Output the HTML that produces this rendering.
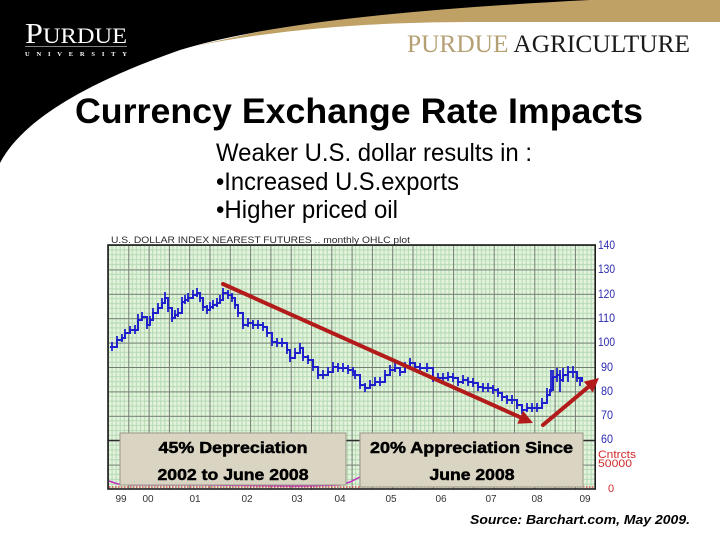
<!DOCTYPE html>
<html><head><meta charset="utf-8"><style>
html,body{margin:0;padding:0;background:#fff;}
svg{display:block;}
</style></head><body>
<svg width="720" height="540" viewBox="0 0 720 540" xmlns="http://www.w3.org/2000/svg">
<defs>
<pattern id="grid" patternUnits="userSpaceOnUse" x="108" y="245" width="20.3" height="24.4">
<rect width="20.3" height="24.4" fill="#e3f3dd"/>
<g stroke="#b3d9b1" stroke-width="1">
<line x1="4.06" y1="0" x2="4.06" y2="24.4"/><line x1="8.12" y1="0" x2="8.12" y2="24.4"/>
<line x1="12.18" y1="0" x2="12.18" y2="24.4"/><line x1="16.24" y1="0" x2="16.24" y2="24.4"/>
<line x1="0" y1="4.88" x2="20.3" y2="4.88"/><line x1="0" y1="9.76" x2="20.3" y2="9.76"/>
<line x1="0" y1="14.64" x2="20.3" y2="14.64"/><line x1="0" y1="19.52" x2="20.3" y2="19.52"/>
</g>
<g stroke="#6f7f6f" stroke-width="1">
<line x1="0.5" y1="0" x2="0.5" y2="24.4"/><line x1="0" y1="0.5" x2="20.3" y2="0.5"/>
</g>
</pattern>
</defs>

<!-- header swoosh -->
<path d="M195,46 C300,25 400,22 480,22 L720,22 L720,0 L400,0 Z" fill="#bfa166"/>
<path d="M0,0 L590,0 C430,8 270,22 180,50 C100,78 25,115 0,163 Z" fill="#000"/>

<!-- Purdue logo -->
<text x="25" y="43" font-family="Liberation Serif, serif" font-size="29" fill="#fff" textLength="102" lengthAdjust="spacingAndGlyphs">P<tspan font-size="22">URDUE</tspan></text>
<line x1="25" y1="46.5" x2="127" y2="46.5" stroke="#fff" stroke-width="0.6"/>
<text x="25" y="56" font-family="Liberation Serif, serif" font-size="6.5" font-weight="bold" fill="#fff" textLength="102" lengthAdjust="spacing">UNIVERSITY</text>

<!-- Purdue Agriculture -->
<text x="407" y="52" font-family="Liberation Serif, serif" font-size="25" textLength="283" lengthAdjust="spacingAndGlyphs"><tspan fill="#b5a074">PURDUE </tspan><tspan fill="#1a1a1a">AGRICULTURE</tspan></text>

<!-- Title -->
<text x="75" y="123" font-family="Liberation Sans, Arial, sans-serif" font-size="35" font-weight="bold" fill="#000" textLength="568" lengthAdjust="spacingAndGlyphs">Currency Exchange Rate Impacts</text>

<!-- Subtitle -->
<g font-family="Liberation Sans, Arial, sans-serif" font-size="25" fill="#000">
<text x="216" y="161" textLength="316" lengthAdjust="spacingAndGlyphs">Weaker U.S. dollar results in :</text>
<text x="216" y="190" textLength="243" lengthAdjust="spacingAndGlyphs">•Increased U.S.exports</text>
<text x="216" y="218" textLength="182" lengthAdjust="spacingAndGlyphs">•Higher priced oil</text>
</g>

<!-- chart title -->
<text x="111" y="243" font-family="Liberation Sans, Arial, sans-serif" font-size="9.5" fill="#2a2a2a" textLength="299" lengthAdjust="spacingAndGlyphs">U.S. DOLLAR INDEX NEAREST FUTURES .. monthly OHLC plot</text>

<!-- plot area -->
<rect x="108" y="245" width="487.2" height="244" fill="url(#grid)"/>
<line x1="108" y1="440.5" x2="595" y2="440.5" stroke="#2c2c2c" stroke-width="1.6"/>
<rect x="108" y="245" width="487.2" height="244" fill="none" stroke="#1e1e1e" stroke-width="1.6"/>

<!-- volume -->
<line x1="109" y1="487" x2="594" y2="487" stroke="#d03030" stroke-width="1.2" stroke-dasharray="1.5 1.5"/>
<polyline points="109,481 118,484 130,485 200,485 300,486 340,485 350,482 362,476 380,472" fill="none" stroke="#c030c0" stroke-width="1.5"/>

<!-- blue OHLC -->
<path fill="none" stroke="#1f1fcc" stroke-width="2" d="M110,347 H117 V340 H122 V338 H125 V333 H130 V330 H135 V330 H138 V320 H142 V317 H147 V325 H150 V320 H153 V313 H158 V308 H162 V303 H165 V298 H168 V308 H172 V318 H175 V315 H178 V313 H182 V302 H185 V300 H188 V298 H193 V295 H197 V293 H200 V298 H203 V307 H207 V310 H210 V307 H213 V305 H217 V303 H220 V300 H223 V293 H228 V295 H232 V298 H235 V305 H238 V313 H243 V325 H248 V323 H253 V325 H258 V325 H263 V327 H267 V333 H272 V342 H277 V343 H282 V343 H287 V350 H290 V358 H295 V353 H300 V348 H303 V357 H308 V360 H313 V367 H318 V375 H323 V375 H328 V372 H333 V367 H338 V368 H343 V368 H348 V370 H353 V372 H355 V375 H360 V385 H365 V388 H370 V385 H375 V382 H380 V382 H385 V375 H390 V370 H395 V368 H400 V372 H405 V367 H410 V363 H415 V367 H420 V368 H427 V368 H433 V378 H438 V378 H443 V378 H448 V377 H453 V378 H458 V382 H463 V380 H468 V382 H473 V383 H478 V387 H483 V388 H488 V388 H493 V390 H498 V393 H502 V397 H507 V400 H512 V400 H517 V405 H522 V410 H527 V408 H532 V408 H537 V408 H542 V403 H547 V395 H550 V390 H553 V377 H557 V375 H560 V380 H563 V375 H568 V372 H573 V372 H577 V378 H582 V382"/>
<path fill="none" stroke="#1f1fcc" stroke-width="1.8" d="M112,342V351 M117,336V344 M122,334V342 M125,329V337 M130,326V334 M135,325V334 M138,314V325 M142,312V321 M147,320V329 M150,316V324 M153,308V317 M158,303V312 M162,298V307 M165,292V303 M168,303V312 M172,313V322 M175,310V319 M178,308V317 M182,297V306 M185,295V304 M188,293V302 M193,290V299 M197,288V297 M200,293V302 M203,302V311 M207,305V314 M210,302V311 M213,300V309 M217,298V307 M220,295V304 M223,288V297 M228,290V299 M232,293V302 M235,300V309 M238,308V317 M243,320V329 M248,318V327 M253,320V329 M258,320V329 M263,322V331 M267,328V337 M272,337V346 M277,338V347 M282,338V347 M287,345V354 M290,353V362 M295,348V357 M300,343V352 M303,352V361 M308,355V364 M313,362V371 M318,370V379 M323,370V379 M328,367V376 M333,362V371 M338,363V372 M343,363V372 M348,365V374 M353,367V376 M355,370V379 M360,380V389 M365,383V392 M370,380V389 M375,377V386 M380,377V386 M385,370V379 M390,365V374 M395,363V372 M400,367V376 M405,362V371 M410,358V367 M415,362V371 M420,363V372 M427,363V372 M433,373V382 M438,373V382 M443,373V382 M448,372V381 M453,373V382 M458,377V386 M463,375V384 M468,377V386 M473,378V387 M478,382V391 M483,383V392 M488,383V392 M493,385V394 M498,388V397 M502,392V401 M507,395V404 M512,395V404 M517,400V409 M522,405V414 M527,403V412 M532,403V412 M537,403V412 M542,398V407 M547,388V400 M551,370V392 M553,370V390 M557,368V382 M560,370V392 M563,368V382 M568,366V382 M573,366V378 M577,372V382 M580,377V386"/>

<!-- red arrows -->
<g stroke="#b31b1b" stroke-width="4" stroke-linecap="round" fill="none">
<line x1="223" y1="284" x2="521" y2="417.6"/>
<line x1="543" y1="425" x2="588.5" y2="386.8"/>
</g>
<polygon points="533,423 517.3,423.7 523.1,410.9" fill="#b31b1b"/>
<polygon points="599,378 592.8,392.4 583.8,381.6" fill="#b31b1b"/>

<!-- annotation boxes -->
<rect x="120" y="433" width="226" height="52" fill="#dad4c3" stroke="#9c968a" stroke-width="1"/>
<rect x="360" y="433" width="223" height="54" fill="#dad4c3" stroke="#9c968a" stroke-width="1"/>
<g font-family="Liberation Sans, Arial, sans-serif" font-size="16" font-weight="bold" fill="#000" stroke="#000" stroke-width="0.5" text-anchor="middle">
<text x="233" y="453" textLength="149" lengthAdjust="spacingAndGlyphs">45% Depreciation</text>
<text x="233" y="480" textLength="151" lengthAdjust="spacingAndGlyphs">2002 to June 2008</text>
<text x="471.5" y="453" textLength="203" lengthAdjust="spacingAndGlyphs">20% Appreciation Since</text>
<text x="472" y="480" textLength="85" lengthAdjust="spacingAndGlyphs">June 2008</text>
</g>

<!-- right axis labels -->
<g font-family="Liberation Sans, Arial, sans-serif" font-size="12" fill="#2b2bb0">
<text x="598" y="249" textLength="17" lengthAdjust="spacingAndGlyphs">140</text>
<text x="598" y="273" textLength="17" lengthAdjust="spacingAndGlyphs">130</text>
<text x="598" y="298" textLength="17" lengthAdjust="spacingAndGlyphs">120</text>
<text x="598" y="322" textLength="17" lengthAdjust="spacingAndGlyphs">110</text>
<text x="598" y="346" textLength="17" lengthAdjust="spacingAndGlyphs">100</text>
<text x="601" y="371" textLength="12" lengthAdjust="spacingAndGlyphs">90</text>
<text x="601" y="395" textLength="12" lengthAdjust="spacingAndGlyphs">80</text>
<text x="601" y="419" textLength="12" lengthAdjust="spacingAndGlyphs">70</text>
<text x="601" y="443" textLength="12" lengthAdjust="spacingAndGlyphs">60</text>
</g>
<g font-family="Liberation Sans, Arial, sans-serif" font-size="11" fill="#d02a2a">
<text x="598" y="458" textLength="38" lengthAdjust="spacingAndGlyphs">Cntrcts</text>
<text x="598" y="467" textLength="34" lengthAdjust="spacingAndGlyphs">50000</text>
<text x="608" y="492">0</text>
</g>

<!-- year labels -->
<g font-family="Liberation Sans, Arial, sans-serif" font-size="10" fill="#333" text-anchor="middle">
<text x="121" y="502">99</text><text x="148" y="502">00</text><text x="195" y="502">01</text>
<text x="247" y="502">02</text><text x="297" y="502">03</text><text x="340" y="502">04</text>
<text x="391" y="502">05</text><text x="441" y="502">06</text><text x="491" y="502">07</text>
<text x="537" y="502">08</text><text x="585" y="502">09</text>
</g>

<!-- source -->
<text x="470" y="524" font-family="Liberation Sans, Arial, sans-serif" font-size="13" font-weight="bold" font-style="italic" fill="#000" textLength="220" lengthAdjust="spacingAndGlyphs">Source: Barchart.com, May 2009.</text>
</svg>
</body></html>
